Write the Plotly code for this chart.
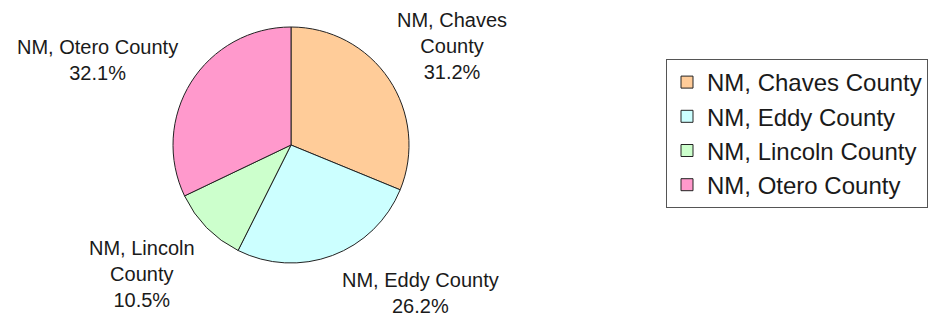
import plotly.graph_objects as go

W, H = 929, 320

counties = ["NM, Chaves County", "NM, Eddy County", "NM, Lincoln County", "NM, Otero County"]
shares = [31.2, 26.2, 10.5, 32.1]
colors = ["#FFCC99", "#CCFFFF", "#CCFFCC", "#FF99CC"]
label_lines = [["NM, Chaves", "County"], ["NM, Eddy County"], ["NM, Lincoln", "County"], ["NM, Otero County"]]
# label centre (pixel) positions of the first line
label_pos = [(452, 20), (420, 280), (142, 248), (97, 47)]

FONT = "Liberation Sans, Arial, sans-serif"
LABEL_SIZE = 20

fig = go.Figure(go.Pie(
    labels=counties,
    values=shares,
    marker=dict(colors=colors, line=dict(color="#222222", width=1)),
    sort=False,
    direction="clockwise",
    rotation=0,
    textinfo="none",
    hoverinfo="label+percent",
    domain=dict(x=[173 / W, 409 / W], y=[57 / H, 293 / H]),
))

annotations = []
for lines, v, (px, py) in zip(label_lines, shares, label_pos):
    txt = "<br>".join(lines + [f"{v:.1f}%"])
    annotations.append(dict(
        x=px / W, y=1 - (py - 13) / H, xref="paper", yref="paper",
        xanchor="center", yanchor="top", align="center",
        text=txt, showarrow=False,
        font=dict(family=FONT, size=LABEL_SIZE, color="#1a1a1a"),
    ))

fig.update_layout(
    width=W, height=H,
    margin=dict(l=0, r=0, t=0, b=0),
    paper_bgcolor="white", plot_bgcolor="white",
    showlegend=True,
    legend=dict(
        x=666 / W, y=1 - 59 / H, xanchor="left", yanchor="top",
        bordercolor="#555555", borderwidth=1, bgcolor="white",
        font=dict(family=FONT, size=24, color="#1a1a1a"),
        tracegroupgap=0, itemwidth=30,
    ),
    annotations=annotations,
)

fig.write_html("out.html")
